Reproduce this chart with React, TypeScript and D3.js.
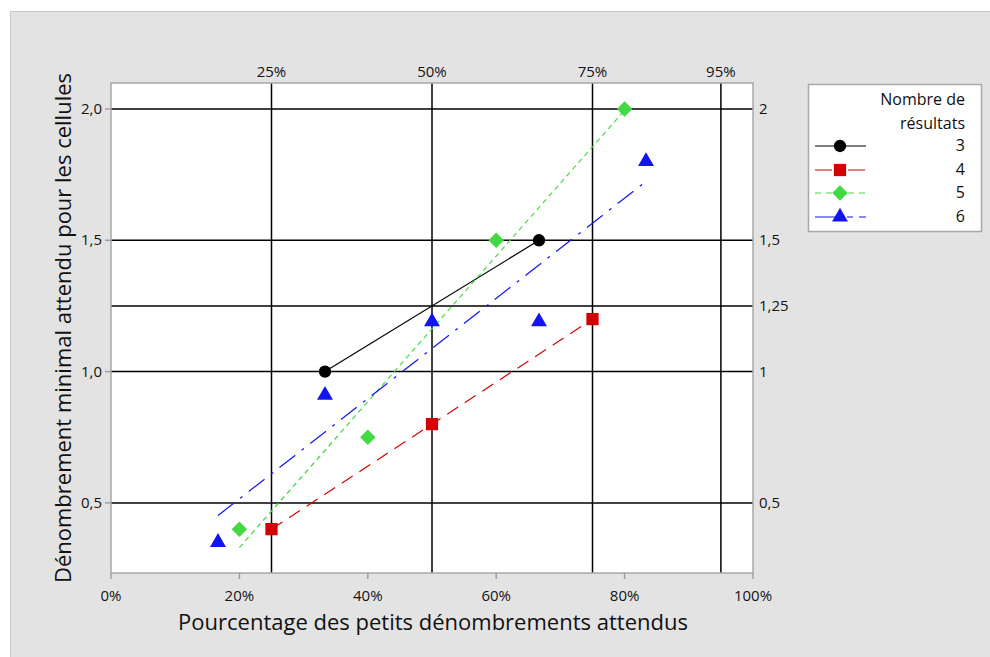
import React from "react";
import * as d3 from "d3";

// series: Nombre de résultats 3..6
const pct3 = [1 / 3, 2 / 3];
const val3 = [1.0, 1.5];
const pct4 = [0.25, 0.5, 0.75];
const val4 = [0.4, 0.8, 1.2];
const pct5 = [0.2, 0.4, 0.6, 0.8];
const val5 = [0.4, 0.75, 1.5, 2.0];
const pct6 = [1 / 6, 2 / 6, 3 / 6, 4 / 6, 5 / 6];
const val6 = [0.35, 0.91, 1.19, 1.19, 1.8];

const seriesNames = ["3", "4", "5", "6"];
const bottomTicks = [0, 0.2, 0.4, 0.6, 0.8, 1];
const topTicks = [0.25, 0.5, 0.75, 0.95];
const topLabels = ["25%", "50%", "75%", "95%"];
const leftTicks = [0.5, 1.0, 1.5, 2.0];
const rightTicks = [0.5, 1.0, 1.25, 1.5, 2.0];
const rightLabels = ["0,5", "1", "1,25", "1,5", "2"];

const FONT = "'Open Sans', 'Noto Sans', sans-serif";

const styles = [
  { color: "#000000", dash: "none", legendDash: "none", shape: d3.symbolCircle, size: 120, rot: 0 },
  { color: "#d40000", dash: "13,8", legendDash: "17,16", shape: d3.symbolSquare, size: 150, rot: 0 },
  { color: "#44d944", dash: "5,4", legendDash: "6,5", shape: d3.symbolSquare, size: 120, rot: 45 },
  { color: "#1414f0", dash: "20,8,3,8", legendDash: "26,6,6,6", shape: d3.symbolTriangle, size: 110, rot: 0 },
];

// least-squares fit line over the series' x range
function fit(xs: number[], ys: number[]) {
  const mx = d3.mean(xs)!;
  const my = d3.mean(ys)!;
  const sxy = d3.sum(xs, (x, i) => (x - mx) * (ys[i] - my));
  const sxx = d3.sum(xs, (x) => (x - mx) ** 2);
  const b = sxy / sxx;
  const a = my - b * mx;
  const x0 = d3.min(xs)!;
  const x1 = d3.max(xs)!;
  return [
    [x0, a + b * x0],
    [x1, a + b * x1],
  ];
}

export default function App() {
  const W = 990;
  const H = 657;
  const left = 111, right = 753, top = 83, bottom = 573;

  const x = d3.scaleLinear().domain([0, 1]).range([left, right]);
  const y = d3.scaleLinear().domain([0.233, 2.099]).range([bottom, top]);

  const data = [
    [pct3, val3],
    [pct4, val4],
    [pct5, val5],
    [pct6, val6],
  ];

  const line = d3
    .line<number[]>()
    .x((d) => x(d[0]))
    .y((d) => y(d[1]));

  const legendY = [146, 170, 193, 217];
  const tickFs = 15;
  const txt = "#141414";

  return (
    <svg
      width={W}
      height={H}
      style={{ position: "absolute", left: 0, top: 0, fontFamily: FONT }}
    >
      <rect x={0} y={0} width={W} height={H} fill="#ffffff" />
      <rect x={10.5} y={11.5} width={W} height={H} fill="#e3e3e3" stroke="#c8c8c8" />

      {/* plot area */}
      <rect x={left} y={top} width={right - left} height={bottom - top} fill="#ffffff" />

      {/* grid */}
      {rightTicks.map((v) => (
        <line key={"h" + v} x1={left} x2={right} y1={y(v)} y2={y(v)} stroke="#000" strokeWidth={1.5} />
      ))}
      {topTicks.map((v) => (
        <line key={"v" + v} x1={x(v)} x2={x(v)} y1={top} y2={bottom} stroke="#000" strokeWidth={1.5} />
      ))}

      <rect x={left} y={top} width={right - left} height={bottom - top} fill="none" stroke="#a8a8a8" strokeWidth={1.5} />

      {/* bottom axis */}
      {bottomTicks.map((v) => (
        <g key={"b" + v}>
          <line x1={x(v)} x2={x(v)} y1={bottom} y2={bottom + 6} stroke="#a0a0a0" strokeWidth={1.5} />
          <text x={x(v)} y={bottom + 28} textAnchor="middle" fontSize={tickFs} fill={txt}>
            {d3.format(".0%")(v)}
          </text>
        </g>
      ))}
      {/* left axis */}
      {leftTicks.map((v) => (
        <g key={"l" + v}>
          <line x1={left - 6} x2={left} y1={y(v)} y2={y(v)} stroke="#a0a0a0" strokeWidth={1.5} />
          <text x={left - 9} y={y(v) + 5} textAnchor="end" fontSize={tickFs} fill={txt}>
            {d3.format(".1f")(v).replace(".", ",")}
          </text>
        </g>
      ))}
      {/* top labels */}
      {topTicks.map((v, i) => (
        <text key={"t" + v} x={x(v)} y={top - 6} textAnchor="middle" fontSize={tickFs} fill={txt}>
          {topLabels[i]}
        </text>
      ))}
      {/* right labels */}
      {rightTicks.map((v, i) => (
        <text key={"r" + v} x={right + 6} y={y(v) + 5} textAnchor="start" fontSize={tickFs} fill={txt}>
          {rightLabels[i]}
        </text>
      ))}

      {/* fit lines */}
      {data.map(([xs, ys], i) => (
        <path
          key={"f" + i}
          d={line(fit(xs, ys))!}
          fill="none"
          stroke={styles[i].color}
          strokeWidth={1.2}
          strokeDasharray={styles[i].dash}
        />
      ))}
      {/* points */}
      {data.map(([xs, ys], i) =>
        xs.map((xv, j) => (
          <path
            key={"p" + i + "-" + j}
            transform={`translate(${x(xv)},${y(ys[j])}) rotate(${styles[i].rot})`}
            d={d3.symbol(styles[i].shape, styles[i].size)()!}
            fill={styles[i].color}
          />
        ))
      )}

      {/* axis titles */}
      <text x={433} y={630} textAnchor="middle" fontSize={22} fill="#111">
        Pourcentage des petits dénombrements attendus
      </text>
      <text
        transform={`translate(71,${(top + bottom) / 2}) rotate(-90)`}
        textAnchor="middle"
        fontSize={22}
        fill="#111"
      >
        Dénombrement minimal attendu pour les cellules
      </text>

      {/* legend */}
      <rect x={808.5} y={84.5} width={173} height={147} fill="#ffffff" stroke="#a8a8a8" strokeWidth={1.5} />
      <text x={965} y={105} textAnchor="end" fontSize={16} fill="#111">Nombre de</text>
      <text x={965} y={129} textAnchor="end" fontSize={16} fill="#111">résultats</text>
      {seriesNames.map((name, i) => (
        <g key={"lg" + name}>
          <line
            x1={815}
            x2={866}
            y1={legendY[i]}
            y2={legendY[i]}
            stroke={styles[i].color}
            strokeWidth={1.2}
            strokeDasharray={styles[i].legendDash}
          />
          <path
            transform={`translate(840,${legendY[i]}) rotate(${styles[i].rot})`}
            d={d3.symbol(styles[i].shape, styles[i].size)()!}
            fill={styles[i].color}
          />
          <text x={965} y={legendY[i] + 5} textAnchor="end" fontSize={16} fill="#111">
            {name}
          </text>
        </g>
      ))}
    </svg>
  );
}
